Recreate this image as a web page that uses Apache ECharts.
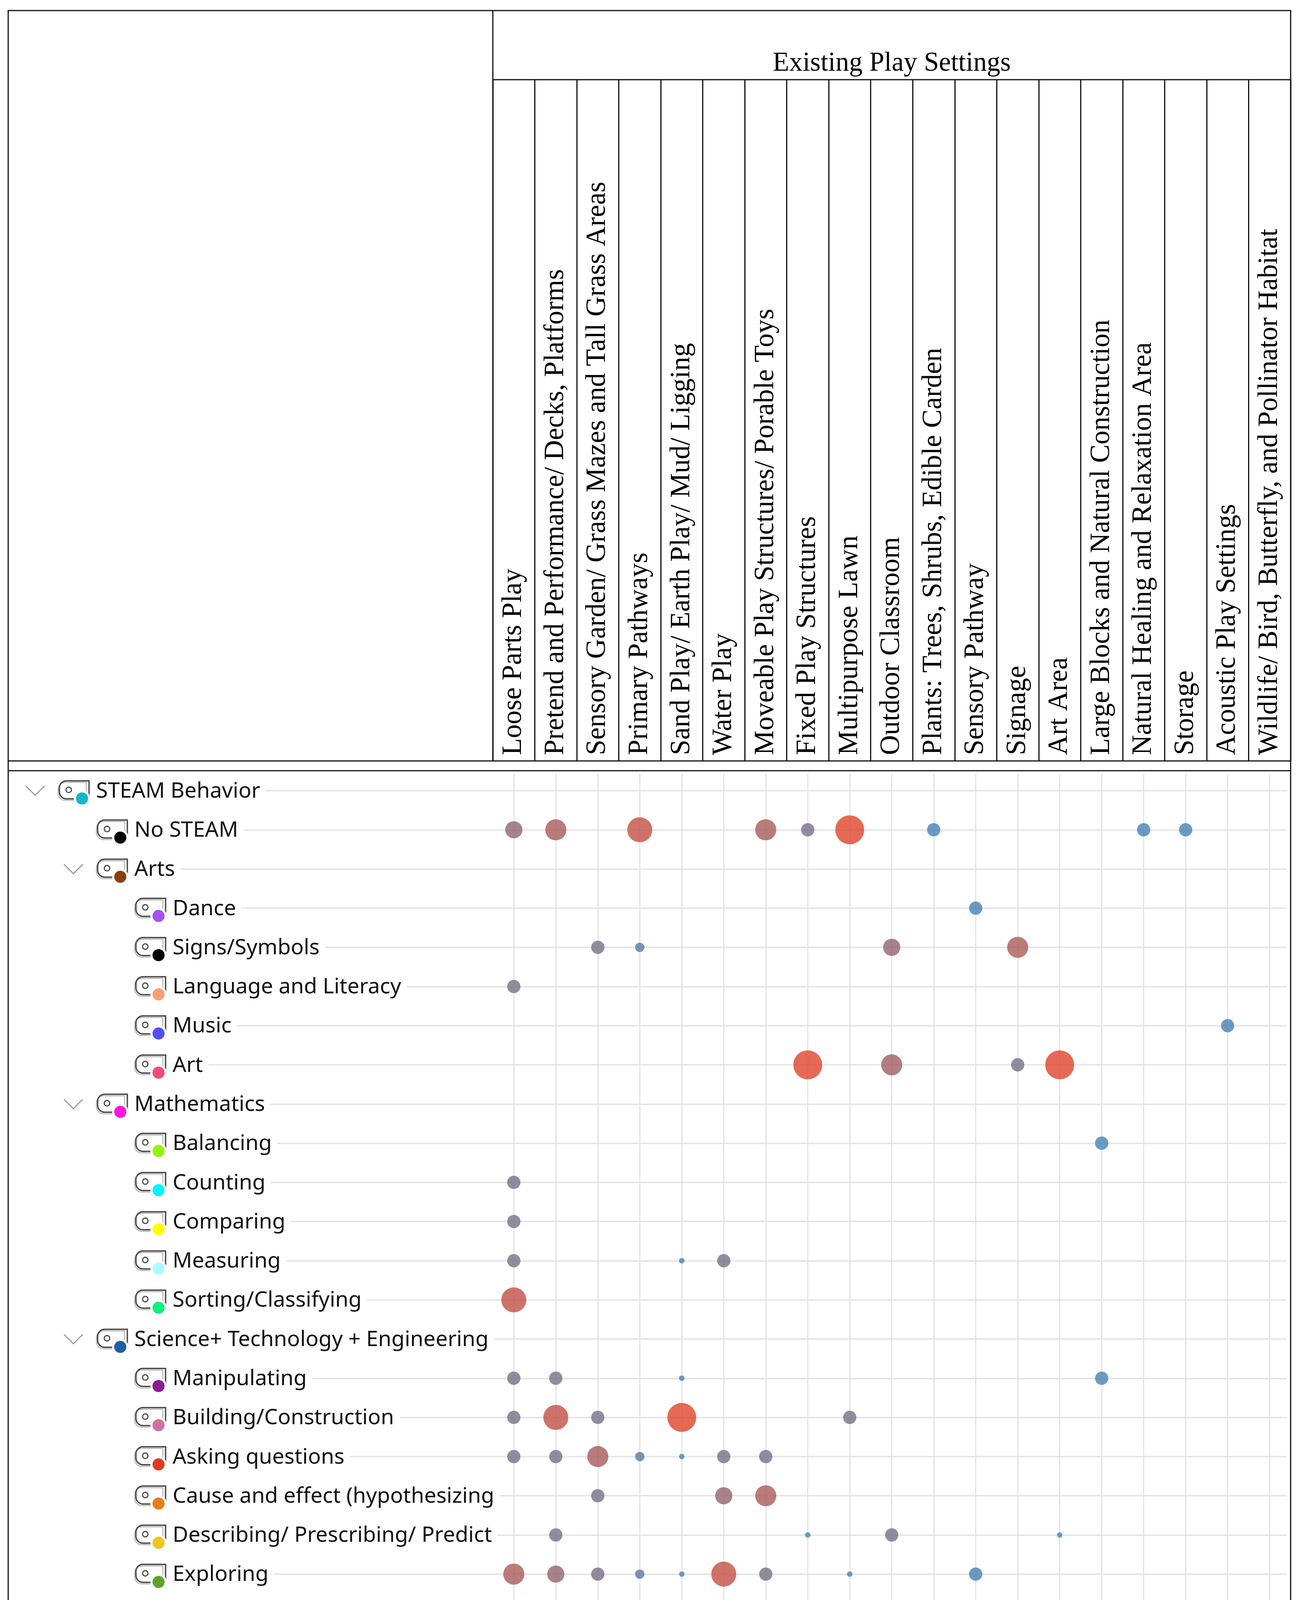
<!DOCTYPE html>
<html>
<head>
<meta charset="utf-8">
<title>STEAM Behavior by Existing Play Settings</title>
<script src="https://cdn.jsdelivr.net/npm/echarts@6/dist/echarts.min.js"></script>
<style>
    html, body { margin: 0; padding: 0; background: #fff; }
    #chart { width: 3329px; height: 4208px; }
</style>
</head>
<body>
<div id="chart"></div>
<script>
// columns: existing play settings
var settings = [
    'Loose Parts Play',
    'Pretend and Performance/ Decks, Platforms',
    'Sensory Garden/ Grass Mazes and Tall Grass Areas',
    'Primary Pathways',
    'Sand Play/ Earth Play/ Mud/ Ligging',
    'Water Play',
    'Moveable Play Structures/ Porable Toys',
    'Fixed Play Structures',
    'Multipurpose Lawn',
    'Outdoor Classroom',
    'Plants: Trees, Shrubs, Edible Carden',
    'Sensory Pathway',
    'Signage',
    'Art Area',
    'Large Blocks and Natural Construction',
    'Natural Healing and Relaxation Area',
    'Storage',
    'Acoustic Play Settings',
    'Wildlife/ Bird, Butterfly, and Pollinator Habitat'
];

// rows: code tree
var codes = [
    'STEAM Behavior', 'No STEAM', 'Arts', 'Dance', 'Signs/Symbols',
    'Language and Literacy', 'Music', 'Art', 'Mathematics', 'Balancing',
    'Counting', 'Comparing', 'Measuring', 'Sorting/Classifying',
    'Science+ Technology + Engineering', 'Manipulating', 'Building/Construction',
    'Asking questions', 'Cause and effect (hypothesizing',
    'Describing/ Prescribing/ Predict', 'Exploring', 'Observing'
];
var codeLevels = [0, 1, 1, 2, 2, 2, 2, 2, 1, 2, 2, 2, 2, 2, 1, 2, 2, 2, 2, 2, 2, 2];
var codeIsGroup = [true, false, true, false, false, false, false, false, true, false,
    false, false, false, false, true, false, false, false, false, false, false, false];
var codeColors = [
    '#17b6c6', '#000000', '#8a3f0e', '#a451f5', '#000000', '#f7a173', '#4f4ff7',
    '#f24d72', '#ff14e6', '#97f20a', '#00f5ff', '#ffff00', '#aafcff', '#0ef07a',
    '#1f5ea6', '#8b1b97', '#d0709f', '#df3a24', '#ec7a1c', '#efc61c', '#62a02a', '#12bfcd'
];

// [setting, code, frequency (size), shade 0-100 (colour)]
var cells = [
    [0, 1, 4, 50], [1, 1, 5, 65], [3, 1, 6, 83], [6, 1, 5, 65], [7, 1, 3, 33],
    [8, 1, 7, 100], [10, 1, 3, 0], [15, 1, 3, 0], [16, 1, 3, 0],
    [11, 3, 3, 0],
    [2, 4, 3, 33], [3, 4, 2, 15], [9, 4, 4, 50], [12, 4, 5, 65],
    [0, 5, 3, 33],
    [17, 6, 3, 0],
    [7, 7, 7, 100], [9, 7, 5, 60], [12, 7, 3, 33], [13, 7, 7, 100],
    [14, 9, 3, 0],
    [0, 10, 3, 33],
    [0, 11, 3, 33],
    [0, 12, 3, 33], [4, 12, 1, 0], [5, 12, 3, 33],
    [0, 13, 6, 80],
    [0, 15, 3, 33], [1, 15, 3, 33], [4, 15, 1, 0], [14, 15, 3, 0],
    [0, 16, 3, 33], [1, 16, 6, 80], [2, 16, 3, 33], [4, 16, 7, 100], [8, 16, 3, 33],
    [0, 17, 3, 33], [1, 17, 3, 33], [2, 17, 5, 65], [3, 17, 2, 15], [4, 17, 1, 0],
    [5, 17, 3, 33], [6, 17, 3, 33],
    [2, 18, 3, 33], [5, 18, 4, 50], [6, 18, 5, 65],
    [1, 19, 3, 33], [7, 19, 1, 0], [9, 19, 3, 33], [13, 19, 1, 0],
    [0, 20, 5, 65], [1, 20, 4, 50], [2, 20, 3, 33], [3, 20, 2, 15], [4, 20, 1, 0],
    [5, 20, 6, 83], [6, 20, 3, 33], [8, 20, 1, 0], [11, 20, 3, 0],
    [2, 21, 5, 65], [3, 21, 2, 15], [5, 21, 4, 50], [10, 21, 3, 0]
];

// page layout, px
var W = 3329, H = 4208;
var frameL = 21, frameR = 3305, frameT = 27, frameB = 4187;
var headL = 1262, titleB = 204, headB = 1948, boxT = 1973;
var colW = (frameR - headL) / settings.length;
var col0 = headL + colW / 2;
var colLast = col0 + colW * (settings.length - 1);
var row0 = 2024, rowLast = 4130;
var rowsL = 30, rowsR = 3295;
var xMin = (rowsL - col0) / colW;
var xMax = (rowsR - col0) / colW;

var labelFont = '55px "Noto Sans", sans-serif';
var serifFont = '"Liberation Serif", serif';

function renderCode(params, api) {
    var i = api.value(1);
    var p = api.coord([api.value(0), i]);
    var x0 = p[0], y = p[1];
    var iconX = x0 + 122 + codeLevels[i] * 98;
    var textX = iconX + 94;
    var kids = [{
        type: 'text', z2: 1, x: x0, y: y + 2,
        style: {
            text: codes[i], font: labelFont, fill: '#111',
            backgroundColor: '#fff', padding: [10, 14, 10, textX - x0],
            align: 'left', verticalAlign: 'middle'
        }
    }];
    if (codeIsGroup[i]) {
        kids.push({
            type: 'polyline', z2: 2,
            shape: { points: [[iconX - 86, y - 12], [iconX - 62, y + 12], [iconX - 38, y - 12]] },
            style: { stroke: '#9a9a9a', lineWidth: 3, fill: null }
        });
    }
    kids.push(
        {
            type: 'rect', z2: 2,
            shape: { x: iconX - 3, y: y - 21, width: 72, height: 46, r: [18, 0, 0, 18] },
            style: { stroke: '#bdbdbd', lineWidth: 3, fill: null }
        },
        {
            type: 'rect', z2: 3,
            shape: { x: iconX, y: y - 25, width: 76, height: 46, r: [18, 0, 0, 18] },
            style: { stroke: '#484848', lineWidth: 3.5, fill: null }
        },
        {
            type: 'circle', z2: 3,
            shape: { cx: iconX + 24, cy: y - 2, r: 7 },
            style: { stroke: '#484848', lineWidth: 3, fill: null }
        },
        {
            type: 'circle', z2: 4,
            shape: { cx: iconX + 58, cy: y + 20, r: 21 },
            style: { fill: '#fff' }
        },
        {
            type: 'circle', z2: 5,
            shape: { cx: iconX + 58, cy: y + 20, r: 15.5 },
            style: { fill: codeColors[i] }
        }
    );
    return { type: 'group', children: kids };
}

var chart = echarts.init(document.getElementById('chart'));

var option = {
    backgroundColor: '#fff',
    animation: false,
    grid: [
        // header columns
        { left: headL, right: W - frameR, top: titleB, bottom: H - headB },
        // vertical guide lines
        { left: col0, right: W - colLast, top: 1981, bottom: H - 4180 },
        // code rows + bubbles
        { left: rowsL, right: W - rowsR, top: row0, bottom: H - rowLast }
    ],
    xAxis: [
        {
            gridIndex: 0, type: 'category', data: settings, boundaryGap: true,
            position: 'bottom',
            axisLine: { show: false }, axisTick: { show: false },
            axisLabel: {
                inside: true, rotate: 90, interval: 0, margin: 15,
                fontFamily: serifFont, fontSize: 71, color: '#000'
            },
            splitLine: { show: true, lineStyle: { color: '#111', width: 3 } }
        },
        {
            gridIndex: 1, type: 'value', min: 0, max: settings.length - 1, interval: 1,
            axisLine: { show: false }, axisTick: { show: false }, axisLabel: { show: false },
            splitLine: { show: true, lineStyle: { color: '#e4e4e4', width: 3 } }
        },
        {
            gridIndex: 2, type: 'value', min: xMin, max: xMax, show: false,
            splitLine: { show: false }
        }
    ],
    yAxis: [
        { gridIndex: 0, type: 'value', show: false, splitLine: { show: false } },
        { gridIndex: 1, type: 'value', show: false, splitLine: { show: false } },
        {
            gridIndex: 2, type: 'value', min: 0, max: codes.length - 1, interval: 1, inverse: true,
            axisLine: { show: false }, axisTick: { show: false }, axisLabel: { show: false },
            splitLine: { show: true, lineStyle: { color: '#e6e6e6', width: 4 } }
        }
    ],
    visualMap: [
        {
            type: 'continuous', show: false, seriesIndex: 1, dimension: 2,
            min: 1, max: 7, inRange: { symbolSize: [14, 74] }
        },
        {
            type: 'continuous', show: false, seriesIndex: 1, dimension: 3,
            min: 0, max: 100, inRange: { color: ['#4682b4', '#de4429'] }
        }
    ],
    graphic: [
        {
            type: 'rect', z: 10,
            shape: { x: frameL, y: frameT, width: frameR - frameL, height: frameB - frameT },
            style: { fill: 'transparent', stroke: '#111', lineWidth: 3 }
        },
        { type: 'line', z: 10, shape: { x1: headL, y1: frameT, x2: headL, y2: headB }, style: { stroke: '#111', lineWidth: 3 } },
        { type: 'line', z: 10, shape: { x1: headL, y1: titleB, x2: frameR, y2: titleB }, style: { stroke: '#111', lineWidth: 3 } },
        { type: 'line', z: 10, shape: { x1: frameL, y1: headB, x2: frameR, y2: headB }, style: { stroke: '#111', lineWidth: 3 } },
        { type: 'line', z: 10, shape: { x1: frameL, y1: boxT, x2: frameR, y2: boxT }, style: { stroke: '#111', lineWidth: 3 } },
        {
            type: 'text', z: 10, x: (headL + frameR) / 2, y: 163,
            style: {
                text: 'Existing Play Settings', font: '69px ' + serifFont,
                fill: '#000', align: 'center', verticalAlign: 'middle'
            }
        }
    ],
    series: [
        {
            type: 'custom', name: 'codes', xAxisIndex: 2, yAxisIndex: 2,
            silent: true, renderItem: renderCode,
            data: codes.map(function (c, i) { return [xMin, i]; })
        },
        {
            type: 'scatter', name: 'frequency', xAxisIndex: 2, yAxisIndex: 2,
            symbol: 'circle', silent: true,
            encode: { x: 0, y: 1 },
            data: cells
        }
    ]
};

chart.setOption(option);
</script>
</body>
</html>
